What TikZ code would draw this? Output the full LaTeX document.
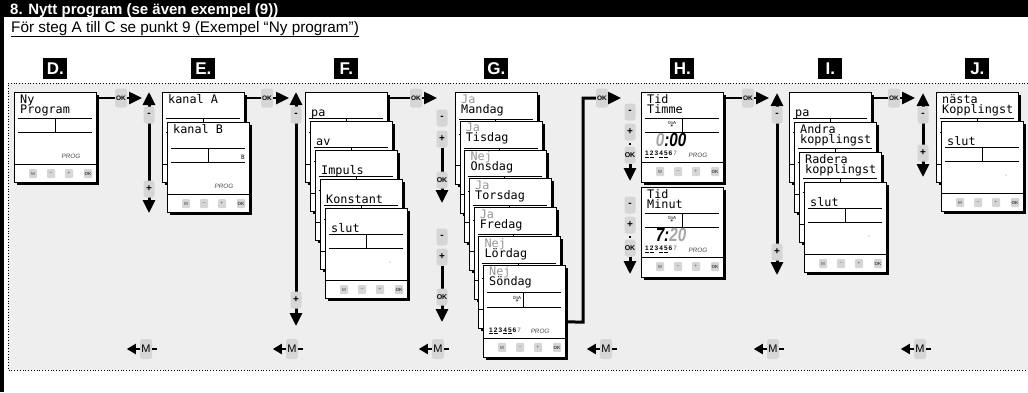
\documentclass[tikz,border=0pt]{standalone}
\usepackage{fontspec}
\setmainfont{Liberation Sans}
\newfontfamily\lcdfont{DejaVu Sans Mono}
\newfontfamily\symfont{DejaVu Sans}
\newfontfamily\digitfont[FakeStretch=0.8]{Liberation Sans}
\usepackage{tikz}
\usetikzlibrary{arrows.meta,positioning,calc,shadows}
\definecolor{panelGray}{RGB}{238,238,238}
\definecolor{keyGray}{RGB}{214,214,214}
\definecolor{dimGray}{RGB}{150,150,150}

% blinking LCD digits
\newcommand{\blink}[1]{\textcolor{black!35}{#1}}
\newcommand{\weekdays}{\underline{1}\,\underline{2}\,3\,\underline{4}\,\underline{5}\,6\,\textcolor{dimGray}{7}}

% parts of one display
\newcommand{\lcdtwo}[3]{%
  \node[lcdtxt] (#1-a) at ($(#1.north west)+(6,11)$) {#2};
  \node[lcdtxt] (#1-b) at ($(#1.north west)+(6,21)$) {#3};}
\newcommand{\lcdone}[3]{%
  \node[lcdtxt] (#1-a) at ($(#1.north west)+(6,#2)$) {#3};}
\newcommand{\lcdlines}[5]{% name, upper line, lower line, divider, key row
  \draw[lcdline] ($(#1.north west)+(4,#2)$) -- ($(#1.north west)+(78,#2)$);
  \draw[lcdline] ($(#1.north west)+(4,#3)$) -- ($(#1.north west)+(78,#3)$);
  \draw[lcdline] ($(#1.north west)+(#4,#2)$) -- ($(#1.north west)+(#4,#3)$);
  \draw[lcdline] ($(#1.north west)+(0,#5)$) -- ($(#1.north east)+(0,#5)$);}
\newcommand{\lcdkeys}[2]{% name, key row
  \node[tkey] (#1-km) at ($(#1.north west)+(19,#2+9.5)$) {M};
  \node[tkey] (#1-kminus) at ($(#1.north west)+(37,#2+9.5)$) {--};
  \node[tkey] (#1-kplus) at ($(#1.north west)+(55,#2+9.5)$) {+};
  \node[tkey] (#1-kok) at ($(#1.north west)+(74,#2+9.5)$) {\textbf{OK}};}
\newcommand{\lcdsun}[3]{%
  \node[sunicon] (#1-sun) at ($(#1.north west)+(#2,#3)$) {0nA\\[-1.5pt]{\symfont ☀}};}
\newcommand{\stdscreen}[3]{%
  \node[lcd] (#1) at ({#2},{#3}) {};
  \lcdlines{#1}{26}{40}{41}{72}}
\newcommand{\dayscreen}[5]{%
  \node[lcd, minimum height=92pt] (#1) at ({#2},{#3}) {};
  \lcdtwo{#1}{\textcolor{dimGray}{#4}}{#5}
  \lcdlines{#1}{27}{42}{40}{73}}
\newcommand{\timescreen}[4]{%
  \node[lcd] (#1) at (641,#2) {};
  \lcdtwo{#1}{Tid}{#3}
  \lcdlines{#1}{26}{40}{41}{70}
  \lcdsun{#1}{31}{32}
  \node[digits] (#1-t) at ($(#1.north west)+(30,48)$) {#4};
  \node[days] (#1-d) at ($(#1.north west)+(4,62.5)$) {\weekdays};
  \node[prog] (#1-p) at ($(#1.north west)+(57,63)$) {PROG};
  \lcdkeys{#1}{70}}

\begin{document}
\begin{tikzpicture}[x=1pt, y=-1pt,
    lcd/.style={draw, fill=white, line width=0.7pt, minimum width=82pt,
      minimum height=90pt, anchor=north west, inner sep=0pt,
      drop shadow={shadow xshift=2.5pt, shadow yshift=-2.5pt, opacity=1, fill=black}},
    lcdtxt/.style={font=\lcdfont\fontsize{11.8}{12}\selectfont, anchor=base west, inner sep=0pt},
    lcdline/.style={line width=0.6pt},
    prog/.style={font=\itshape\fontsize{6.3}{6.3}\selectfont, text=black!70, inner sep=0pt},
    sunicon/.style={font=\fontsize{4.5}{4.5}\selectfont, align=center, inner sep=0pt},
    days/.style={font=\bfseries\fontsize{6.5}{6.5}\selectfont, anchor=west, inner sep=0pt},
    digits/.style={font=\digitfont\bfseries\itshape\fontsize{19}{19}\selectfont, inner sep=0pt},
    tkey/.style={fill=keyGray, rounded corners=1pt, minimum width=8pt, minimum height=9pt,
      inner sep=0pt, font=\fontsize{4.5}{4.5}\selectfont, text=black!75},
    skey/.style={fill=keyGray, rounded corners=2.5pt, minimum width=11pt, minimum height=17pt,
      inner sep=0pt, font=\bfseries\fontsize{10}{10}\selectfont},
    okkey/.style={skey, minimum width=12pt, minimum height=19pt, font=\bfseries\fontsize{6.5}{6.5}\selectfont},
    mkey/.style={fill=keyGray, rounded corners=2.5pt, minimum width=12pt, minimum height=20pt,
      inner sep=0pt, font=\fontsize{11}{11}\selectfont},
    steplabel/.style={fill=black, text=white, font=\bfseries\fontsize{17}{17}\selectfont,
      minimum width=24pt, minimum height=21pt, inner sep=0pt},
    hconn/.style={line width=2.5pt},
    vconn/.style={line width=3pt},
    bconn/.style={line width=2pt},
    >={Triangle[length=13pt,width=12pt]}
  ]
  \useasboundingbox (0,0) rectangle (1028,392);
  % heading
  \fill[black] (0,0) rectangle (1028,17);
  \fill[black] (0,0) rectangle (3.5,392);
  \node[anchor=base west, text=white, font=\bfseries\fontsize{15}{15}\selectfont, inner sep=0pt]
    (title) at (10,14) {8. Nytt program (se även exempel (9))};
  \node[anchor=base west, font=\fontsize{15.3}{15}\selectfont, inner sep=0pt]
    (subtitle) at (11,32) {\underline{För steg A till C se punkt 9 (Exempel “Ny program”)}};
  % panel
  \fill[panelGray] (8,83) rectangle (1028,370);
  \draw[dotted, line width=0.8pt] (1028,83) -- (8,83) -- (8,370) -- (1028,370);

  % D
  \stdscreen{D}{14}{92}
  \lcdtwo{D}{Ny}{Program}
  \node[prog] (D-p) at ($(D.north west)+(57,64)$) {PROG};
  \lcdkeys{D}{72}

  % E
  \stdscreen{E1}{162}{92}
  \lcdone{E1}{11}{kanal A}
  \stdscreen{E2}{167}{122}
  \lcdone{E2}{11}{kanal B}
  \node[font=\lcdfont\fontsize{6}{6}\selectfont, inner sep=0pt] (E2-ch) at ($(E2.north west)+(76,35)$) {B};
  \node[prog] (E2-p) at ($(E2.north west)+(57,64)$) {PROG};
  \lcdkeys{E2}{72}

  % F
  \foreach \word [count=\i] in {pa, av, Impuls, Konstant, slut} {
    \stdscreen{F\i}{305+5*(\i-1)}{92+29*(\i-1)}
    \lcdone{F\i}{24}{\word}
  }
  \fill[dimGray] ($(F5.north west)+(65,54)$) circle (0.6);
  \lcdkeys{F5}{72}

  % G
  \foreach \word/\dname [count=\i] in {Ja/Mandag, Ja/Tisdag, Nej/Onsdag, Ja/Torsdag,
      Ja/Fredag, Nej/Lördag, Nej/Söndag} {
    \dayscreen{G\i}{455+4.67*(\i-1)}{92+28.83*(\i-1)}{\word}{\dname}
  }
  \lcdsun{G7}{34}{34}
  \node[days] (G7-d) at ($(G7.north west)+(6,66)$) {\weekdays};
  \node[prog] (G7-p) at ($(G7.north west)+(57,66)$) {PROG};
  \lcdkeys{G7}{73}

  % H
  \timescreen{H1}{92}{Timme}{\blink{0}:00}
  \timescreen{H2}{187}{Minut}{7:\blink{20}}

  % I
  \stdscreen{I1}{789}{92}
  \lcdone{I1}{24}{pa}
  \stdscreen{I2}{794}{122}
  \lcdtwo{I2}{Andra}{kopplingst}
  \stdscreen{I3}{799}{152}
  \lcdtwo{I3}{Radera}{kopplingst}
  \stdscreen{I4}{804}{182}
  \lcdone{I4}{24}{slut}
  \fill[dimGray] ($(I4.north west)+(65,54)$) circle (0.6);
  \lcdkeys{I4}{72}

  % J
  \stdscreen{J1}{936}{92}
  \lcdtwo{J1}{nästa}{Kopplingst}
  \stdscreen{J2}{941}{121}
  \lcdone{J2}{24}{slut}
  \fill[dimGray] ($(J2.north west)+(65,54)$) circle (0.6);
  \lcdkeys{J2}{72}

  % step letters
  \node[steplabel, above=13pt of D.north] (labD) {D.};
  \node[steplabel, above=13pt of E1.north] (labE) {E.};
  \node[steplabel, above=13pt of F1.north] (labF) {F.};
  \node[steplabel, above=13pt of G1.north] (labG) {G.};
  \node[steplabel, above=13pt of H1.north] (labH) {H.};
  \node[steplabel, above=13pt of I1.north] (labI) {I.};
  \node[steplabel, above=13pt of J1.north] (labJ) {J.};

  % OK connectors
  \node[okkey] (okD) at (121,98) {OK};
  \coordinate (inE) at (142,98);
  \draw[hconn] (D.north east |- okD) -- (okD.west);
  \draw[hconn,->] (okD.east) -- (inE);

  \node[okkey] (okE) at (267,98) {OK};
  \coordinate (inF) at (289,98);
  \draw[hconn] (E1.north east |- okE) -- (okE.west);
  \draw[hconn,->] (okE.east) -- (inF);

  \node[okkey] (okF) at (416,98) {OK};
  \coordinate (inG) at (437,98);
  \draw[hconn] (F1.north east |- okF) -- (okF.west);
  \draw[hconn,->] (okF.east) -- (inG);

  \node[okkey] (okG) at (602,98) {OK};
  \coordinate (inH) at (621,98);
  \coordinate (bendGH) at (583,322);
  \draw[vconn] ($(G7.north east)+(0,57)$) -- (bendGH) |- (okG.west);
  \draw[hconn,->] (okG.east) -- (inH);

  \node[okkey] (okH) at (748,98) {OK};
  \coordinate (inI) at (769,98);
  \draw[hconn] (H1.north east |- okH) -- (okH.west);
  \draw[hconn,->] (okH.east) -- (inI);

  \node[okkey] (okI) at (894,98) {OK};
  \coordinate (inJ) at (915,98);
  \draw[hconn] (I1.north east |- okI) -- (okI.west);
  \draw[hconn,->] (okI.east) -- (inJ);

  % E: up / down
  \coordinate (Etop) at (149,92);
  \coordinate (Ebot) at (149,213);
  \draw[vconn,<->] (Etop) -- (Ebot);
  \node[skey] (E-minus) at (149,115) {-};
  \node[skey] (E-plus) at (149,189) {+};

  % F: up / down
  \coordinate (Ftop) at (296,92);
  \coordinate (Fbot) at (296,326);
  \draw[vconn,<->] (Ftop) -- (Fbot);
  \node[skey] (F-minus) at (296,115) {-};
  \node[skey] (F-plus) at (296,300) {+};

  % G: two choice steps
  \node[skey] (G-minus1) at (442,118) {-};
  \node[skey] (G-plus1) at (442,139) {+};
  \coordinate (G-dn1) at (442,203);
  \draw[vconn,->] (G-plus1.south) -- (G-dn1);
  \node[skey, font=\bfseries\fontsize{7}{7}\selectfont] (G-ok1) at (442,180) {OK};
  \node[skey] (G-minus2) at (442,237) {-};
  \node[skey] (G-plus2) at (442,257) {+};
  \coordinate (G-dn2) at (442,322);
  \draw[vconn,->] (G-plus2.south) -- (G-dn2);
  \node[skey, font=\bfseries\fontsize{7}{7}\selectfont] (G-ok2) at (442,297) {OK};

  % H: hour and minute
  \foreach \k/\ym in {1/112, 2/205} {
    \node[skey] (H-minus\k) at (630,\ym) {-};
    \node[skey] (H-plus\k) at (630,\ym+20) {+};
    \fill ($(H-plus\k.south)+(-1,2)$) rectangle ++(2,2.5);
    \node[skey, font=\bfseries\fontsize{7}{7}\selectfont] (H-ok\k) at (630,\ym+43) {OK};
    \coordinate (H-dn\k) at (630,\ym+69);
    \draw[vconn,->] (H-ok\k.south) -- (H-dn\k);
  }

  % I: up / down
  \coordinate (Itop) at (777,93);
  \coordinate (Ibot) at (777,275);
  \draw[vconn,<->] (Itop) -- (Ibot);
  \node[skey] (I-minus) at (777,115) {-};
  \node[skey] (I-plus) at (777,252) {+};

  % J: up / down
  \coordinate (Jtop) at (923,93);
  \coordinate (Jbot) at (923,177);
  \draw[vconn,<->] (Jtop) -- (Jbot);
  \node[skey] (J-minus) at (923,115) {-};
  \node[skey] (J-plus) at (923,153) {+};

  % back with M
  \foreach \col/\xm in {E/146, F/292, G/438, H/606, I/773, J/920} {
    \node[mkey] (back\col) at (\xm,349) {M};
    \draw[bconn,-{Triangle[length=9pt,width=10pt]}] (back\col.west) -- ++(-13,0);
    \draw[bconn] (back\col.east) -- ++(5,0);
  }
\end{tikzpicture}
\end{document}
